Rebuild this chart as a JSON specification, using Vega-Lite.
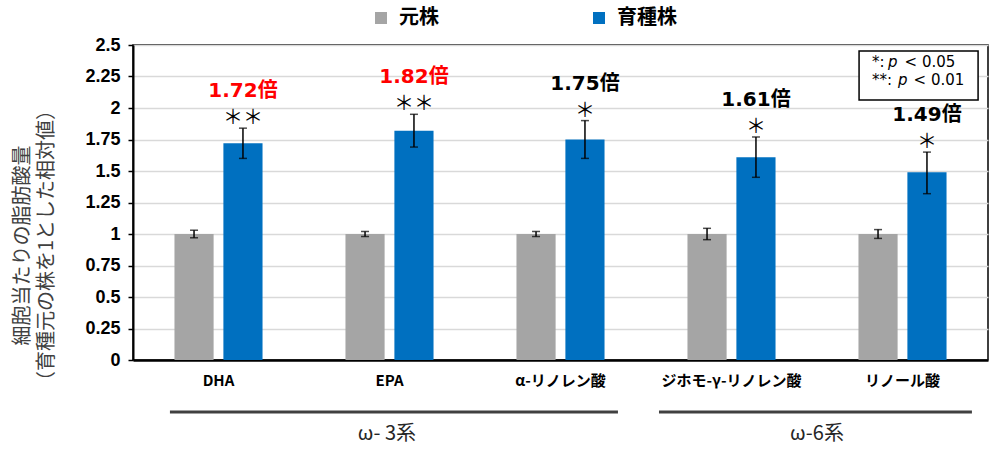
{
  "$schema": "https://vega.github.io/schema/vega-lite/v6.json",
  "autosize": {"type": "none"},
  "width": 855,
  "height": 315,
  "padding": {"left": 133, "top": 45, "right": 12, "bottom": 89},
  "background": "#ffffff",
  "config": {
    "view": {"stroke": "#000000", "strokeWidth": 1.5},
    "axis": {"labelColor": "#000000"}
  },
  "datasets": {
    "main": [
      {"acid": "DHA", "strain": "元株", "value": 1.0, "lo": 0.97, "hi": 1.03, "sig": "", "fold": "", "emph": false},
      {"acid": "DHA", "strain": "育種株", "value": 1.72, "lo": 1.60, "hi": 1.84, "sig": "＊＊", "fold": "1.72倍", "emph": true},
      {"acid": "EPA", "strain": "元株", "value": 1.0, "lo": 0.98, "hi": 1.02, "sig": "", "fold": "", "emph": false},
      {"acid": "EPA", "strain": "育種株", "value": 1.82, "lo": 1.69, "hi": 1.95, "sig": "＊＊", "fold": "1.82倍", "emph": true},
      {"acid": "α-リノレン酸", "strain": "元株", "value": 1.0, "lo": 0.98, "hi": 1.02, "sig": "", "fold": "", "emph": false},
      {"acid": "α-リノレン酸", "strain": "育種株", "value": 1.75, "lo": 1.60, "hi": 1.90, "sig": "＊", "fold": "1.75倍", "emph": false},
      {"acid": "ジホモ-γ-リノレン酸", "strain": "元株", "value": 1.0, "lo": 0.955, "hi": 1.045, "sig": "", "fold": "", "emph": false},
      {"acid": "ジホモ-γ-リノレン酸", "strain": "育種株", "value": 1.61, "lo": 1.45, "hi": 1.77, "sig": "＊", "fold": "1.61倍", "emph": false},
      {"acid": "リノール酸", "strain": "元株", "value": 1.0, "lo": 0.965, "hi": 1.035, "sig": "", "fold": "", "emph": false},
      {"acid": "リノール酸", "strain": "育種株", "value": 1.49, "lo": 1.32, "hi": 1.65, "sig": "＊", "fold": "1.49倍", "emph": false}
    ],
    "groups": [
      {"group": "ω- 3系", "start": 0.216, "end": 2.836, "mid": 1.485, "ly": -0.413, "ty": -0.59},
      {"group": "ω-6系", "start": 3.076, "end": 4.906, "mid": 4.0, "ly": -0.413, "ty": -0.59}
    ],
    "pbox": [
      {"x1": 4.246, "x2": 4.942, "y1": 2.452, "y2": 2.063}
    ],
    "ptext": [
      {"t": "*:", "x": 4.322, "y": 2.365, "italic": false},
      {"t": "p", "x": 4.415, "y": 2.365, "italic": true},
      {"t": "< 0.05", "x": 4.512, "y": 2.365, "italic": false},
      {"t": "**:", "x": 4.322, "y": 2.222, "italic": false},
      {"t": "p", "x": 4.473, "y": 2.222, "italic": true},
      {"t": "< 0.01", "x": 4.565, "y": 2.222, "italic": false}
    ]
  },
  "layer": [
    {
      "layer": [
        {
          "data": {"name": "main"},
          "mark": {"type": "bar"},
          "encoding": {
            "x": {"field": "acid", "type": "nominal", "sort": null,
              "scale": {"paddingInner": 0.485, "paddingOuter": 0.2425},
              "axis": {"title": null, "labelAngle": 0, "ticks": false, "grid": false,
                "domainColor": "#000000", "domainWidth": 2.5,
                "labelFont": "Noto Sans CJK JP", "labelFontSize": 15, "labelFontWeight": "bold",
                "labelPadding": 13, "labelColor": "#000000"}},
            "xOffset": {"field": "strain", "type": "nominal", "sort": ["元株", "育種株"],
              "scale": {"paddingInner": 0.2, "paddingOuter": 0}},
            "y": {"field": "value", "type": "quantitative",
              "scale": {"domain": [0, 2.5], "nice": false, "zero": true},
              "axis": {
                "values": [0, 0.25, 0.5, 0.75, 1, 1.25, 1.5, 1.75, 2, 2.25, 2.5],
                "labelExpr": "'' + datum.value",
                "labelOverlap": false,
                "labelFont": "Liberation Sans", "labelFontSize": 18, "labelFontWeight": "bold",
                "labelColor": "#000000", "labelPadding": 8,
                "domainColor": "#000000", "domainWidth": 2,
                "tickColor": "#000000", "tickSize": 5, "tickWidth": 1.5,
                "gridColor": "#D9D9D9", "gridWidth": 1.5,
                "title": ["細胞当たりの脂肪酸量", "（育種元の株を1とした相対値）"],
                "titleFont": "Noto Sans CJK JP", "titleFontSize": 20, "titleFontWeight": "normal",
                "titleColor": "#404040", "titleLineHeight": 24,
                "titleX": -121, "titleY": 200, "titleBaseline": "top", "titleAlign": "center"
              }},
            "color": {"field": "strain", "type": "nominal",
              "scale": {"domain": ["元株", "育種株"], "range": ["#A5A5A5", "#0070C0"]},
              "legend": {"orient": "none", "legendX": 238, "legendY": -37, "direction": "horizontal",
                "title": null, "symbolType": "square", "symbolSize": 144, "symbolStrokeWidth": 0,
                "labelFont": "Noto Sans CJK JP", "labelFontSize": 20, "labelFontWeight": "bold",
                "labelColor": "#000000", "labelOffset": 8, "columnPadding": 150, "padding": 0}}
          }
        },
        {
          "data": {"name": "main"},
          "mark": {"type": "rule", "color": "#000000", "strokeWidth": 1.5},
          "encoding": {
            "x": {"field": "acid", "type": "nominal", "sort": null},
            "xOffset": {"field": "strain", "type": "nominal", "sort": ["元株", "育種株"]},
            "y": {"field": "lo", "type": "quantitative", "axis": {"values": [0, 0.25, 0.5, 0.75, 1, 1.25, 1.5, 1.75, 2, 2.25, 2.5], "labelExpr": "'' + datum.value", "labelOverlap": false}},
            "y2": {"field": "hi"}
          }
        },
        {
          "data": {"name": "main"},
          "mark": {"type": "tick", "color": "#000000", "thickness": 1.5, "size": 8},
          "encoding": {
            "x": {"field": "acid", "type": "nominal", "sort": null},
            "xOffset": {"field": "strain", "type": "nominal", "sort": ["元株", "育種株"]},
            "y": {"field": "lo", "type": "quantitative", "axis": {"values": [0, 0.25, 0.5, 0.75, 1, 1.25, 1.5, 1.75, 2, 2.25, 2.5], "labelExpr": "'' + datum.value", "labelOverlap": false}}
          }
        },
        {
          "data": {"name": "main"},
          "mark": {"type": "tick", "color": "#000000", "thickness": 1.5, "size": 8},
          "encoding": {
            "x": {"field": "acid", "type": "nominal", "sort": null},
            "xOffset": {"field": "strain", "type": "nominal", "sort": ["元株", "育種株"]},
            "y": {"field": "hi", "type": "quantitative", "axis": {"values": [0, 0.25, 0.5, 0.75, 1, 1.25, 1.5, 1.75, 2, 2.25, 2.5], "labelExpr": "'' + datum.value", "labelOverlap": false}}
          }
        },
        {
          "data": {"name": "main"},
          "transform": [{"filter": "datum.strain === '育種株'"}],
          "mark": {"type": "text", "font": "Noto Sans CJK JP", "fontSize": 20, "baseline": "middle", "align": "center", "dy": -10, "color": "#000000"},
          "encoding": {
            "x": {"field": "acid", "type": "nominal", "sort": null},
            "xOffset": {"field": "strain", "type": "nominal", "sort": ["元株", "育種株"]},
            "y": {"field": "hi", "type": "quantitative", "axis": {"values": [0, 0.25, 0.5, 0.75, 1, 1.25, 1.5, 1.75, 2, 2.25, 2.5], "labelExpr": "'' + datum.value", "labelOverlap": false}},
            "text": {"field": "sig"}
          }
        },
        {
          "data": {"name": "main"},
          "transform": [{"filter": "datum.strain === '育種株'"}],
          "mark": {"type": "text", "font": "DejaVu Sans, Noto Sans CJK JP", "fontSize": 20, "fontWeight": "bold", "baseline": "middle", "align": "center", "dy": -37},
          "encoding": {
            "x": {"field": "acid", "type": "nominal", "sort": null},
            "xOffset": {"field": "strain", "type": "nominal", "sort": ["元株", "育種株"]},
            "y": {"field": "hi", "type": "quantitative", "axis": {"values": [0, 0.25, 0.5, 0.75, 1, 1.25, 1.5, 1.75, 2, 2.25, 2.5], "labelExpr": "'' + datum.value", "labelOverlap": false}},
            "text": {"field": "fold"},
            "color": {"condition": {"test": "datum.emph", "value": "#FF0000"}, "value": "#000000"}
          }
        }
      ]
    },
    {
      "layer": [
        {
          "data": {"name": "groups"},
          "mark": {"type": "rule", "color": "#404040", "strokeWidth": 3},
          "encoding": {
            "x": {"field": "start", "type": "quantitative", "scale": {"domain": [0, 5], "nice": false, "zero": false}, "axis": null},
            "x2": {"field": "end"},
            "y": {"field": "ly", "type": "quantitative", "axis": {"values": [0, 0.25, 0.5, 0.75, 1, 1.25, 1.5, 1.75, 2, 2.25, 2.5], "labelExpr": "'' + datum.value", "labelOverlap": false}}
          }
        },
        {
          "data": {"name": "groups"},
          "mark": {"type": "text", "font": "Noto Sans CJK JP", "fontSize": 20, "baseline": "middle", "align": "center", "color": "#262626"},
          "encoding": {
            "x": {"field": "mid", "type": "quantitative"},
            "y": {"field": "ty", "type": "quantitative", "axis": {"values": [0, 0.25, 0.5, 0.75, 1, 1.25, 1.5, 1.75, 2, 2.25, 2.5], "labelExpr": "'' + datum.value", "labelOverlap": false}},
            "text": {"field": "group"}
          }
        },
        {
          "data": {"name": "pbox"},
          "mark": {"type": "rect", "fill": "#ffffff", "stroke": "#000000", "strokeWidth": 1.5},
          "encoding": {
            "x": {"field": "x1", "type": "quantitative"},
            "x2": {"field": "x2"},
            "y": {"field": "y1", "type": "quantitative", "axis": {"values": [0, 0.25, 0.5, 0.75, 1, 1.25, 1.5, 1.75, 2, 2.25, 2.5], "labelExpr": "'' + datum.value", "labelOverlap": false}},
            "y2": {"field": "y2"}
          }
        },
        {
          "data": {"name": "ptext"},
          "transform": [{"filter": "!datum.italic"}],
          "mark": {"type": "text", "font": "DejaVu Sans", "fontSize": 15, "baseline": "middle", "align": "left", "color": "#000000"},
          "encoding": {
            "x": {"field": "x", "type": "quantitative"},
            "y": {"field": "y", "type": "quantitative", "axis": {"values": [0, 0.25, 0.5, 0.75, 1, 1.25, 1.5, 1.75, 2, 2.25, 2.5], "labelExpr": "'' + datum.value", "labelOverlap": false}},
            "text": {"field": "t"}
          }
        },
        {
          "data": {"name": "ptext"},
          "transform": [{"filter": "datum.italic"}],
          "mark": {"type": "text", "font": "DejaVu Sans", "fontSize": 15, "fontStyle": "italic", "baseline": "middle", "align": "left", "color": "#000000"},
          "encoding": {
            "x": {"field": "x", "type": "quantitative"},
            "y": {"field": "y", "type": "quantitative", "axis": {"values": [0, 0.25, 0.5, 0.75, 1, 1.25, 1.5, 1.75, 2, 2.25, 2.5], "labelExpr": "'' + datum.value", "labelOverlap": false}},
            "text": {"field": "t"}
          }
        }
      ]
    }
  ],
  "resolve": {"scale": {"x": "independent"}}
}
